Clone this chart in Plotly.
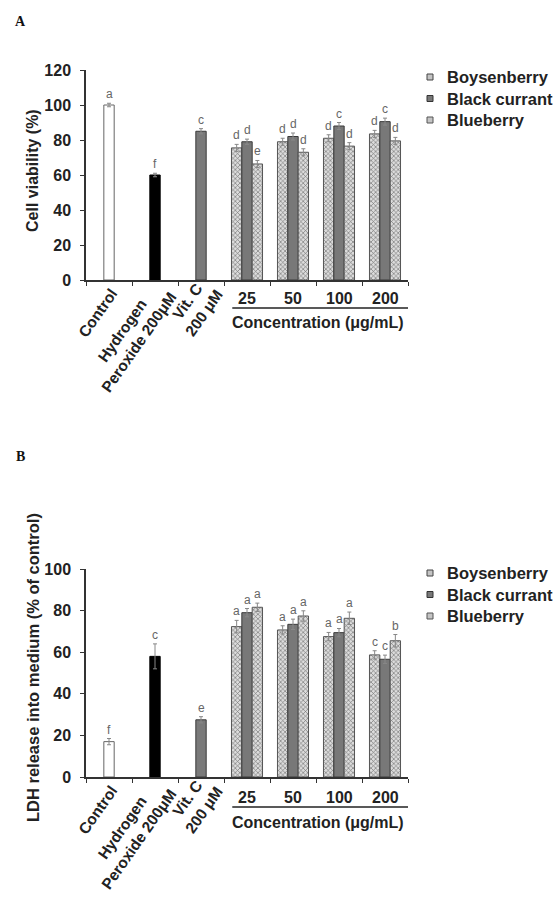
import plotly.graph_objects as go

# ---------------- data ----------------
categories = ["Control", "H2O2", "VitC", "25", "50", "100", "200"]
control_labels = ["Control", "Hydrogen<br>Peroxide 200μM", "Vit. C<br>200 μM"]
conc_labels = ["25", "50", "100", "200"]
series_names = ["Boysenberry", "Black currant", "Blueberry"]

# Panel A: cell viability (%)
a_ref_values = [100, 60, 85]
a_ref_err = [1.0, 1.0, 1.5]
a_ref_letters = ["a", "f", "c"]
a_boysenberry = [75.5, 79, 81, 83.5]
a_blackcurrant = [79, 82, 88, 90.5]
a_blueberry = [66.3, 73, 76.5, 79.5]
a_boysenberry_err = [2, 2, 2, 2]
a_blackcurrant_err = [1.5, 2, 2, 2]
a_blueberry_err = [2, 2, 2, 2]
a_boysenberry_letters = ["d", "d", "d", "d"]
a_blackcurrant_letters = ["d", "d", "c", "c"]
a_blueberry_letters = ["e", "d", "d", "d"]

# Panel B: LDH release into medium (% of control)
b_ref_values = [17, 58, 27.5]
b_ref_err = [1.5, 6, 1.5]
b_ref_letters = ["f", "c", "e"]
b_boysenberry = [72.3, 70.7, 67.5, 58.7]
b_blackcurrant = [79, 73.4, 69.4, 56.6]
b_blueberry = [81.6, 77.4, 76.3, 65.5]
b_boysenberry_err = [3, 2, 2, 2]
b_blackcurrant_err = [2, 2.5, 2, 2]
b_blueberry_err = [2, 2.5, 3, 3]
b_boysenberry_letters = ["a", "a", "a", "c"]
b_blackcurrant_letters = ["a", "a", "a", "c"]
b_blueberry_letters = ["a", "a", "a", "b"]

# ---------------- style ----------------
W, H = 558, 897
FONT = "Arial, Liberation Sans, sans-serif"
AX_COLOR = "#333333"
TXT = "#222222"
BAR_W = 0.225
offsets = [-1.5 * BAR_W, -0.5 * BAR_W, 0.5 * BAR_W]

x_dom = [86 / W, 408 / W]
a_pix = (280, 70)   # pixel rows of y=0 and y=top
b_pix = (777, 569)
a_dom = [(H - a_pix[0]) / H, (H - a_pix[1]) / H]
b_dom = [(H - b_pix[0]) / H, (H - b_pix[1]) / H]

hatched = dict(shape="x", size=3.2, solidity=0.35, fgcolor="#6e6e6e",
               bgcolor="#dcdcdc", fillmode="replace")
series_styles = [
    dict(color="#dcdcdc", pattern=hatched, line=dict(color="#555", width=1)),
    dict(color="#787878", line=dict(color="#3a3a3a", width=1)),
    dict(color="#dcdcdc", pattern=hatched, line=dict(color="#555", width=1)),
]
legend_fill = ["#c4c4c4", "#787878", "#c4c4c4"]
legend_line = ["#444", "#333", "#555"]


def bold(size):
    return dict(family=FONT, size=size, color=TXT, weight="bold")


fig = go.Figure()
annotations = []
shapes = []


def add_panel(xa, ya, ref_vals, ref_err, ref_letters, ser_vals, ser_err, ser_letters):
    xref = "x" if xa == "x" else "x2"
    yref = "y" if ya == "y" else "y2"
    fig.add_trace(go.Bar(
        x=categories[:3], y=ref_vals, xaxis=xa, yaxis=ya, width=BAR_W,
        offset=-0.5 * BAR_W, showlegend=False,
        marker=dict(color=["#ffffff", "#000000", "#7a7a7a"],
                    line=dict(color=["#666", "#000", "#3a3a3a"], width=1)),
        error_y=dict(type="data", array=ref_err, color="#888", thickness=1, width=2),
    ))
    for i, (v, e, l) in enumerate(zip(ref_vals, ref_err, ref_letters)):
        annotations.append(dict(x=i, y=v + e, xref=xref, yref=yref, text=l,
                                showarrow=False, yanchor="bottom", yshift=0,
                                font=dict(family=FONT, size=12, color="#666")))
    for s in range(3):
        fig.add_trace(go.Bar(
            x=categories[3:], y=ser_vals[s], xaxis=xa, yaxis=ya, width=BAR_W,
            offset=offsets[s], showlegend=False, name=series_names[s],
            marker=series_styles[s],
            error_y=dict(type="data", array=ser_err[s], color="#888", thickness=1, width=2),
        ))
        for j, (v, e, l) in enumerate(zip(ser_vals[s], ser_err[s], ser_letters[s])):
            annotations.append(dict(x=3 + j + offsets[s] + BAR_W / 2, y=v + e,
                                    xref=xref, yref=yref, text=l, showarrow=False,
                                    yanchor="bottom", yshift=0,
                                    font=dict(family=FONT, size=12, color="#666")))


add_panel("x", "y", a_ref_values, a_ref_err, a_ref_letters,
          [a_boysenberry, a_blackcurrant, a_blueberry],
          [a_boysenberry_err, a_blackcurrant_err, a_blueberry_err],
          [a_boysenberry_letters, a_blackcurrant_letters, a_blueberry_letters])
add_panel("x2", "y2", b_ref_values, b_ref_err, b_ref_letters,
          [b_boysenberry, b_blackcurrant, b_blueberry],
          [b_boysenberry_err, b_blackcurrant_err, b_blueberry_err],
          [b_boysenberry_letters, b_blackcurrant_letters, b_blueberry_letters])

# custom legends (small squares + bold labels)
for top in [77, 573]:
    for s, name in enumerate(series_names):
        cy = top + 21.5 * s
        shapes.append(dict(type="rect", xref="paper", yref="paper",
                           x0=427 / W, x1=433 / W, y0=(H - cy - 3) / H, y1=(H - cy + 3) / H,
                           fillcolor=legend_fill[s], line=dict(color=legend_line[s], width=1)))
        annotations.append(dict(x=445 / W, y=(H - cy) / H, xref="paper", yref="paper",
                                text=name, showarrow=False, xanchor="left", yanchor="middle",
                                font=bold(16.5)))

# x tick labels as annotations
label_centers = [(-12, -33), (-25, -56), (-6, -27)]
for panel, xref, y0, num_dy, line_dy, conc_dy in [
        ("A", "x", a_dom[0], -18, -28, -42),
        ("B", "x2", b_dom[0], -20, -30, -45)]:
    for i, lab in enumerate(control_labels):
        dx, dy = label_centers[i]
        annotations.append(dict(x=i, y=y0, xref=xref, yref="paper", text=lab,
                                showarrow=False, textangle=-55, align="center",
                                xanchor="center", yanchor="middle",
                                xshift=dx, yshift=dy, font=bold(15.5)))
    for j, lab in enumerate(conc_labels):
        annotations.append(dict(x=3 + j, y=y0, xref=xref, yref="paper", text=lab,
                                showarrow=False, xanchor="center", yanchor="middle",
                                yshift=num_dy, font=bold(16)))
    shapes.append(dict(type="line", xref=xref, yref="paper", x0=2.68, x1=6.5,
                       ysizemode="pixel", yanchor=y0, y0=line_dy, y1=line_dy,
                       line=dict(color="#222", width=1.5)))
    annotations.append(dict(x=2.64, y=y0, xref=xref, yref="paper",
                            text="Concentration (μg/mL)", showarrow=False,
                            xanchor="left", yanchor="middle", yshift=conc_dy,
                            font=bold(16)))

# y titles and panel letters
annotations.append(dict(x=33 / W, y=(H - 171) / H, xref="paper", yref="paper",
                        text="Cell viability (%)", textangle=-90, showarrow=False,
                        xanchor="center", yanchor="middle", font=bold(16)))
annotations.append(dict(x=33 / W, y=(H - 668) / H, xref="paper", yref="paper",
                        text="LDH release into medium (% of control)", textangle=-90,
                        showarrow=False, xanchor="center", yanchor="middle",
                        font=bold(16.5)))
for txt, py in [("A", 22), ("B", 457)]:
    annotations.append(dict(x=20 / W, y=(H - py) / H, xref="paper", yref="paper",
                            text=txt, showarrow=False, xanchor="center", yanchor="middle",
                            font=dict(family="Liberation Serif, Times New Roman, serif",
                                      size=14, color="#111", weight="bold")))

xaxis_common = dict(domain=x_dom, type="category", categoryorder="array",
                    categoryarray=categories, range=[-0.5, 6.5], showline=True,
                    linecolor=AX_COLOR, linewidth=1.5, ticks="outside",
                    tickson="boundaries", ticklen=4, tickcolor=AX_COLOR,
                    showticklabels=False, showgrid=False, zeroline=False, fixedrange=True)
yaxis_common = dict(showline=True, linecolor=AX_COLOR, linewidth=1.5, ticks="outside",
                    ticklen=4, tickcolor=AX_COLOR, dtick=20, showgrid=False,
                    zeroline=False, ticklabelstandoff=6, automargin=False,
                    tickfont=bold(16))

fig.update_layout(
    width=W, height=H, margin=dict(l=0, r=0, t=0, b=0, autoexpand=False),
    paper_bgcolor="white", plot_bgcolor="white", barmode="overlay",
    xaxis=dict(anchor="y", **xaxis_common),
    yaxis=dict(anchor="x", domain=a_dom, range=[0, 120], **yaxis_common),
    xaxis2=dict(anchor="y2", **xaxis_common),
    yaxis2=dict(anchor="x2", domain=b_dom, range=[0, 100], **yaxis_common),
    annotations=annotations, shapes=shapes, showlegend=False,
)

fig.write_html("out.html", config={"displayModeBar": False},
               post_script="document.body.style.margin='0';"
                           "document.body.style.overflow='hidden';")
